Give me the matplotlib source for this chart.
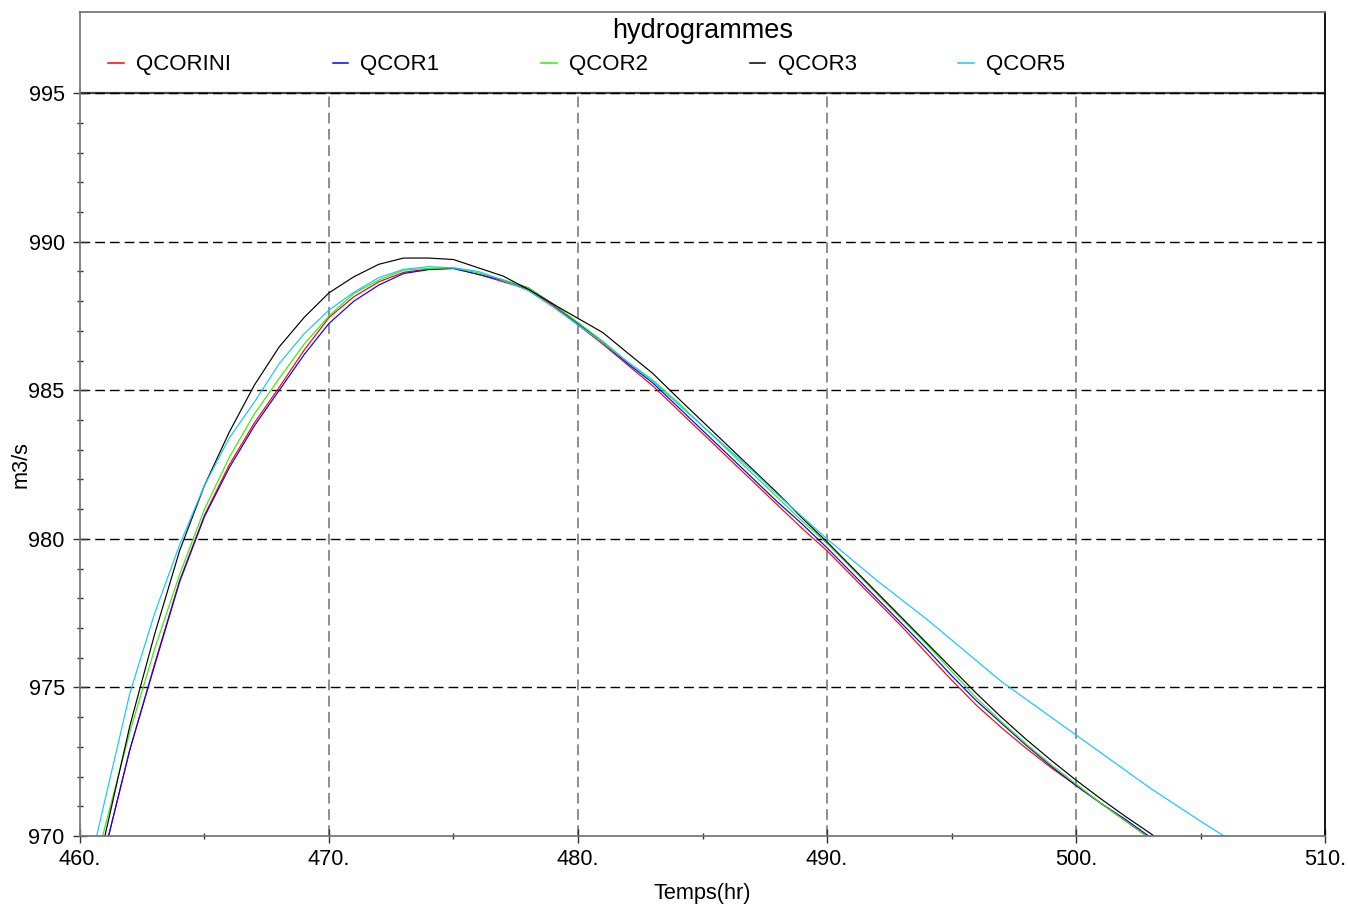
import numpy as np
import matplotlib
matplotlib.use("Agg")
import matplotlib.pyplot as plt

plt.rcParams['font.family'] = ['Liberation Sans', 'DejaVu Sans']

# hourly discharge (m3/s)
hours = np.arange(460, 508)

qcorini = [966.0, 969.5, 972.9, 975.8, 978.6, 980.8, 982.5, 983.9, 985.1, 986.35,
           987.45, 988.15, 988.65, 988.97, 989.08, 989.10, 988.9, 988.65, 988.4, 987.85,
           987.2, 986.55, 985.85, 985.15, 984.35, 983.55, 982.75, 981.95, 981.15, 980.35,
           979.6, 978.75, 977.9, 977.05, 976.15, 975.25, 974.4, 973.65, 972.95, 972.3,
           971.7, 971.1, 970.5, 969.9, 969.3, 968.7, 968.1, 967.5]
qcor1 = [966.0, 969.5, 972.9, 975.75, 978.55, 980.75, 982.4, 983.8, 985.0, 986.2,
         987.25, 988.0, 988.54, 988.93, 989.06, 989.10, 988.9, 988.7, 988.45, 987.9,
         987.25, 986.6, 985.9, 985.25, 984.45, 983.65, 982.85, 982.05, 981.25, 980.5,
         979.7, 978.85, 978.0, 977.15, 976.3, 975.4, 974.55, 973.8, 973.05, 972.35,
         971.7, 971.1, 970.55, 969.95, 969.35, 968.75, 968.15, 967.55]
qcor2 = [966.8, 970.3, 973.5, 976.3, 978.8, 981.0, 982.75, 984.2, 985.4, 986.55,
         987.5, 988.26, 988.71, 989.04, 989.1, 989.12, 988.95, 988.72, 988.45, 987.9,
         987.28, 986.65, 985.95, 985.35, 984.6, 983.8, 983.0, 982.2, 981.4, 980.6,
         979.85, 979.0, 978.15, 977.3, 976.45, 975.55, 974.65, 973.85, 973.1, 972.4,
         971.75, 971.1, 970.5, 969.9, 969.3, 968.7, 968.1, 967.5]
qcor3 = [966.2, 970.0, 973.7, 976.8, 979.6, 981.8, 983.6, 985.17, 986.46, 987.45,
         988.28, 988.82, 989.24, 989.45, 989.45, 989.40, 989.12, 988.84, 988.4, 987.9,
         987.42, 986.94, 986.25, 985.57, 984.75, 983.95, 983.15, 982.35, 981.55, 980.7,
         979.9, 979.05, 978.2, 977.35, 976.5, 975.65, 974.8, 974.0, 973.25, 972.55,
         971.88, 971.25, 970.65, 970.08, 969.5, 968.95, 968.4, 967.85]
qcor5 = [967.6, 971.2, 974.8, 977.5, 979.8, 981.8, 983.4, 984.6, 985.9, 986.9,
         987.7, 988.3, 988.79, 989.07, 989.16, 989.12, 989.0, 988.7, 988.35, 987.8,
         987.2, 986.6, 985.95, 985.3, 984.55, 983.8, 983.05, 982.3, 981.5, 980.75,
         980.0, 979.3, 978.6, 977.95, 977.3, 976.6, 975.9, 975.2, 974.6, 974.0,
         973.4, 972.8, 972.2, 971.6, 971.05, 970.5, 969.97, 969.4]

names = ["QCORINI", "QCOR1", "QCOR2", "QCOR3", "QCOR5"]
colors = ["#ff0000", "#0000ff", "#33ee00", "#000000", "#10c8ff"]
values = [qcorini, qcor1, qcor2, qcor3, qcor5]

x_major = [460, 470, 480, 490, 500, 510]
y_major = [970, 975, 980, 985, 990, 995]

fig = plt.figure(figsize=(13.48, 9.07), dpi=100)
ax = fig.add_axes([80 / 1348, 1 - 836 / 907, 1245 / 1348, 824 / 907])
ax.set_xlim(460, 510)
ax.set_ylim(970, 997.73)

# grid: black dashed horizontals, grey dashed verticals (stop at 995)
for y in y_major[1:-1]:
    ax.axhline(y, color='k', lw=1.0, linestyle=(0, (7, 3.6)), zorder=0)
ax.vlines(x_major[1:-1], 970, 995, colors='#707070', lw=1.1,
          linestyles=[(0, (7, 3.6))], zorder=0)
ax.axhline(995, color='#444444', lw=1.6, zorder=1)
ax.axhline(995, color='k', lw=1.0, linestyle=(0, (7, 3.6)), zorder=1)

for name, vals, col in zip(names, values, colors):
    ax.plot(hours, vals, color=col, lw=0.85, label=name, zorder=2)

ax.set_xticks(x_major)
ax.set_xticklabels([f"{x}." for x in x_major])
ax.set_xticks(np.arange(465, 510, 10), minor=True)
ax.set_yticks(y_major)
ax.set_yticks(np.arange(971, 995), minor=True)
ax.tick_params(which='major', direction='inout', length=10, width=1,
               color='#333333', labelsize=15.7)
ax.tick_params(which='minor', direction='inout', length=4.5, width=1, color='#333333')
ax.tick_params(axis='x', pad=4.6)
ax.tick_params(axis='y', pad=6)

for side in ['left', 'bottom', 'top']:
    ax.spines[side].set_color('#777777')
    ax.spines[side].set_linewidth(1.3)
ax.spines['right'].set_color('k')
ax.spines['right'].set_linewidth(1.3)

ax.set_xlabel("Temps(hr)", fontsize=15.7)
ax.xaxis.set_label_coords(0.5, -0.057)
ax.set_ylabel("m3/s", fontsize=15.7)
ax.yaxis.set_label_coords(-0.0386, 0.451)

ax.text(0.5, 0.9684, "hydrogrammes", ha='center', va='baseline', fontsize=19.5,
        transform=ax.transAxes)
leg = ax.legend(ncol=5, loc='center left', bbox_to_anchor=(0.0225, 0.9357),
                frameon=False, fontsize=16, handlelength=0.7, handletextpad=0.55,
                columnspacing=4.58, borderpad=0, borderaxespad=0)
for h in leg.get_lines():
    h.set_linewidth(1.1)

fig.savefig("out.png", dpi=100)
